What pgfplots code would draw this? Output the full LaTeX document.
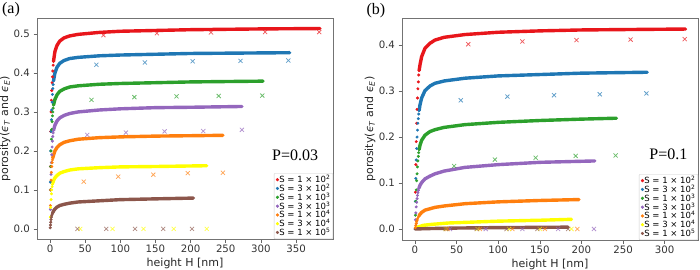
\documentclass[border=0pt]{standalone}
\usepackage{fontspec}
\setmainfont{DejaVu Sans}
\newfontfamily\serif{Liberation Serif}
\usepackage{pgfplots}
\pgfplotsset{compat=1.18}
\definecolor{cR}{HTML}{E8161B}
\definecolor{cB}{HTML}{1F77B4}
\definecolor{cG}{HTML}{2CA02C}
\definecolor{cP}{HTML}{9467BD}
\definecolor{cO}{HTML}{FF7F0E}
\definecolor{cY}{HTML}{FFFF00}
\definecolor{cN}{HTML}{8C564B}
\pgfplotsset{
 cur/.style={line width=3.4pt, no marks, line cap=round, line join=round, forget plot},
 dots/.style={only marks, mark=*, mark size=1.3pt, forget plot},
 crs/.style={only marks, mark=x, mark size=2.9pt, line width=0.75pt, opacity=0.7, forget plot},
 panel/.style={
  scale only axis, clip=false,
  axis line style={black!55},
  tick align=outside, major tick length=3.5pt,
  xtick pos=bottom, ytick pos=left,
  tick style={black!60, line width=0.6pt},
  tick label style={font=\fontsize{10.2}{12}\selectfont, text=black!80},
  xticklabel style={yshift=1.2pt},
  label style={font=\fontsize{11}{13}\selectfont, text=black!85},
  /pgf/number format/assume math mode=true,
  yticklabel style={/pgf/number format/.cd, fixed, fixed zerofill, precision=1},
  xlabel={height H [nm]},
  ylabel={porosity(\textit{ϵ}\textsubscript{\textit{T}} and \textit{ϵ}\textsubscript{\textit{E}})},
  ylabel style={at={(axis description cs:-0.108,0.5)}, anchor=center},
  xlabel style={at={(axis description cs:0.5,-0.11)}, anchor=center},
  legend cell align=left,
  legend style={at={(1,0)}, anchor=south east, draw=black!20, fill=white,
    font=\fontsize{8.5}{9}\selectfont, rounded corners=1pt,
    nodes={inner sep=0.5pt}, row sep=-0.9pt, inner xsep=2pt, inner ysep=1.5pt},
  legend image code/.code={\draw[mark repeat=2,mark phase=2,#1] plot coordinates {(0cm,0cm) (0.15cm,0cm) (0.3cm,0cm)};},
 },
}
\newcommand{\leg}{%
 \addlegendimage{only marks, mark=*, mark size=1.4pt, cR}\addlegendentry{S = 1 × 10\textsuperscript{2}}
 \addlegendimage{only marks, mark=*, mark size=1.4pt, cB}\addlegendentry{S = 3 × 10\textsuperscript{2}}
 \addlegendimage{only marks, mark=*, mark size=1.4pt, cG}\addlegendentry{S = 1 × 10\textsuperscript{3}}
 \addlegendimage{only marks, mark=*, mark size=1.4pt, cP}\addlegendentry{S = 3 × 10\textsuperscript{3}}
 \addlegendimage{only marks, mark=*, mark size=1.4pt, cO}\addlegendentry{S = 1 × 10\textsuperscript{4}}
 \addlegendimage{only marks, mark=*, mark size=1.4pt, cY}\addlegendentry{S = 3 × 10\textsuperscript{4}}
 \addlegendimage{only marks, mark=*, mark size=1.4pt, cN}\addlegendentry{S = 1 × 10\textsuperscript{5}}
}
\begin{document}
\begin{tikzpicture}
\path[use as bounding box] (0,0) rectangle (700pt,269pt);
% ---------------- panel (a)
\begin{axis}[panel, at={(37pt,30pt)}, anchor=south west, width=296pt, height=221pt,
 xmin=-18.5, xmax=402.6, ymin=-0.026, ymax=0.541,
 xtick={0,50,100,150,200,250,300,350}, ytick={0,0.1,0.2,0.3,0.4,0.5}]
\leg
% red
\addplot[cur, cR] coordinates {(5,0.43)(7,0.455)(10,0.471)(14,0.482)(20,0.490)(28,0.495)(40,0.499)(70,0.504)(100,0.507)(150,0.509)(200,0.511)(300,0.513)(384,0.514)};
\addplot[dots, cR] coordinates {(0.5,0.16)(1.0,0.25)(1.5,0.30)(2.0,0.33)(2.5,0.355)(3.0,0.375)(3.5,0.39)(4.0,0.405)(4.5,0.42)(5,0.43)};
\addplot[crs, cR] coordinates {(76,0.497)(152,0.502)(229,0.504)(306,0.505)(383,0.505)};
% blue
\addplot[cur, cB] coordinates {(5,0.38)(7,0.40)(10,0.415)(14,0.425)(20,0.432)(28,0.437)(40,0.440)(70,0.444)(100,0.446)(150,0.448)(200,0.450)(270,0.451)(341,0.452)};
\addplot[dots, cB] coordinates {(0.5,0.12)(1.0,0.20)(1.5,0.25)(2,0.28)(2.5,0.305)(3,0.325)(3.5,0.345)(4,0.36)(4.5,0.37)(5,0.38)};
\addplot[crs, cB] coordinates {(66,0.421)(135,0.427)(203,0.430)(271,0.431)(339,0.432)};
% green
\addplot[cur, cG] coordinates {(5,0.318)(7,0.332)(10,0.344)(14,0.353)(20,0.359)(28,0.364)(40,0.367)(70,0.371)(100,0.373)(150,0.375)(200,0.377)(250,0.378)(303,0.379)};
\addplot[dots, cG] coordinates {(0.5,0.10)(1,0.16)(1.5,0.20)(2,0.23)(2.5,0.255)(3,0.275)(3.5,0.29)(4,0.30)(4.5,0.31)(5,0.318)};
\addplot[crs, cG] coordinates {(59,0.331)(120,0.338)(180,0.340)(240,0.341)(302,0.342)};
% purple
\addplot[cur, cP] coordinates {(5,0.253)(7,0.266)(10,0.277)(14,0.285)(20,0.291)(28,0.296)(40,0.300)(70,0.305)(100,0.308)(150,0.311)(200,0.312)(273,0.314)};
\addplot[dots, cP] coordinates {(0.5,0.05)(1,0.10)(1.5,0.14)(2,0.17)(2.5,0.19)(3,0.21)(3.5,0.225)(4,0.237)(4.5,0.246)(5,0.253)};
\addplot[crs, cP] coordinates {(53,0.241)(108,0.247)(163,0.250)(218,0.251)(273,0.254)};
% orange
\addplot[cur, cO] coordinates {(4,0.182)(5,0.189)(7,0.200)(10,0.209)(14,0.216)(20,0.222)(28,0.226)(40,0.230)(70,0.234)(100,0.236)(150,0.238)(200,0.239)(246,0.240)};
\addplot[dots, cO] coordinates {(0.5,0.06)(1,0.10)(1.5,0.125)(2,0.145)(2.5,0.16)(3,0.17)(3.5,0.177)(4,0.182)};
\addplot[crs, cO] coordinates {(48,0.121)(97,0.134)(147,0.139)(196,0.143)(246,0.144)};
% yellow
\addplot[cur, cY] coordinates {(4,0.118)(5,0.124)(7,0.131)(10,0.137)(14,0.143)(20,0.147)(28,0.151)(40,0.154)(70,0.157)(100,0.159)(150,0.160)(223,0.162)};
\addplot[dots, cY] coordinates {(0.5,0.03)(1,0.055)(1.5,0.075)(2,0.09)(2.5,0.10)(3,0.108)(3.5,0.114)(4,0.118)};
\addplot[crs, cY] coordinates {(43,0)(89,0)(133,0)(176,0)(223,0)};
% brown
\addplot[cur, cN] coordinates {(4,0.042)(5,0.046)(7,0.051)(10,0.056)(14,0.060)(20,0.063)(28,0.066)(40,0.069)(70,0.072)(100,0.075)(150,0.077)(204,0.079)};
\addplot[dots, cN] coordinates {(0.3,0.003)(0.7,0.010)(1,0.017)(1.5,0.024)(2,0.030)(2.5,0.034)(3,0.037)(3.5,0.040)(4,0.042)};
\addplot[crs, cN] coordinates {(39,0)(80,0)(121,0)(161,0)(202,0)};
\node[font=\serif\fontsize{16}{18}\selectfont] at (axis description cs:0.872,0.378) {P=0.03};
\node[font=\serif\fontsize{16}{18}\selectfont] at (axis description cs:-0.088,1.038) {(a)};
\end{axis}
% ---------------- panel (b)
\begin{axis}[panel, at={(402pt,29pt)}, anchor=south west, width=296pt, height=222pt,
 xmin=-15.6, xmax=340, ymin=-0.024, ymax=0.459,
 xtick={0,50,100,150,200,250,300}, ytick={0,0.1,0.2,0.3,0.4}]
\leg
% red
\addplot[cur, cR] coordinates {(5,0.345)(6,0.357)(8,0.375)(12,0.393)(18,0.404)(24,0.411)(35,0.417)(60,0.423)(100,0.428)(150,0.431)(200,0.433)(260,0.434)(325,0.435)};
\addplot[dots, cR] coordinates {(0.5,0.08)(1,0.14)(1.5,0.19)(2,0.23)(2.5,0.26)(3,0.285)(3.5,0.305)(4,0.32)(4.5,0.335)(5,0.345)};
\addplot[crs, cR] coordinates {(64,0.402)(129,0.408)(194,0.411)(259,0.412)(324,0.413)};
% blue
\addplot[cur, cB] coordinates {(5,0.258)(6,0.270)(8,0.285)(12,0.301)(18,0.311)(24,0.317)(35,0.322)(60,0.328)(100,0.333)(150,0.336)(200,0.339)(279,0.341)};
\addplot[dots, cB] coordinates {(0.5,0.06)(1,0.11)(1.5,0.15)(2,0.175)(2.5,0.20)(3,0.215)(3.5,0.23)(4,0.24)(4.5,0.25)(5,0.258)};
\addplot[crs, cB] coordinates {(55,0.280)(111,0.288)(167,0.291)(222,0.293)(278,0.295)};
% green
\addplot[cur, cG] coordinates {(5,0.173)(6,0.182)(8,0.193)(12,0.204)(18,0.212)(24,0.216)(35,0.221)(60,0.227)(100,0.232)(150,0.236)(200,0.239)(242,0.241)};
\addplot[dots, cG] coordinates {(0.5,0.03)(1,0.06)(1.5,0.085)(2,0.105)(2.5,0.12)(3,0.135)(3.5,0.148)(4,0.158)(4.5,0.166)(5,0.173)};
\addplot[crs, cG] coordinates {(47,0.137)(96,0.151)(145,0.155)(193,0.159)(241,0.160)};
% purple
\addplot[cur, cP] coordinates {(5,0.09)(6,0.095)(8,0.101)(12,0.109)(18,0.115)(24,0.12)(35,0.126)(60,0.134)(100,0.140)(150,0.145)(216,0.148)};
\addplot[dots, cP] coordinates {(0.5,0.02)(1,0.035)(1.5,0.048)(2,0.058)(2.5,0.066)(3,0.073)(3.5,0.079)(4,0.084)(4.5,0.088)(5,0.09)};
\addplot[crs, cP] coordinates {(42,0)(85,0)(129,0)(172,0)(215,0)};
% orange
\addplot[cur, cO] coordinates {(5,0.029)(6,0.032)(8,0.036)(12,0.041)(18,0.044)(24,0.047)(35,0.05)(60,0.055)(100,0.059)(150,0.062)(197,0.064)};
\addplot[dots, cO] coordinates {(0.5,0.003)(1,0.008)(1.5,0.012)(2,0.016)(2.5,0.019)(3,0.022)(4,0.026)(5,0.029)};
\addplot[crs, cO] coordinates {(39,0)(78,0)(117,0)(156,0)(195,0)};
% yellow
\addplot[cur, cY] coordinates {(0.5,0.001)(2,0.003)(5,0.005)(10,0.008)(20,0.010)(40,0.013)(70,0.015)(100,0.017)(150,0.019)(188,0.021)};
\addplot[crs, cY] coordinates {(37,0)(75,0)(113,0)(150,0)(188,0)};
% brown
\addplot[cur, cN] coordinates {(0,0)(20,0.001)(50,0.002)(100,0.003)(150,0.0035)(184,0.004)};
\addplot[crs, cN] coordinates {(37,0)(74,0)(110,0)(147,0)(184,0)};
\node[font=\serif\fontsize{16}{18}\selectfont] at (axis description cs:0.90,0.385) {P=0.1};
\node[font=\serif\fontsize{16}{18}\selectfont] at (axis description cs:-0.088,1.031) {(b)};
\end{axis}
\end{tikzpicture}
\end{document}
